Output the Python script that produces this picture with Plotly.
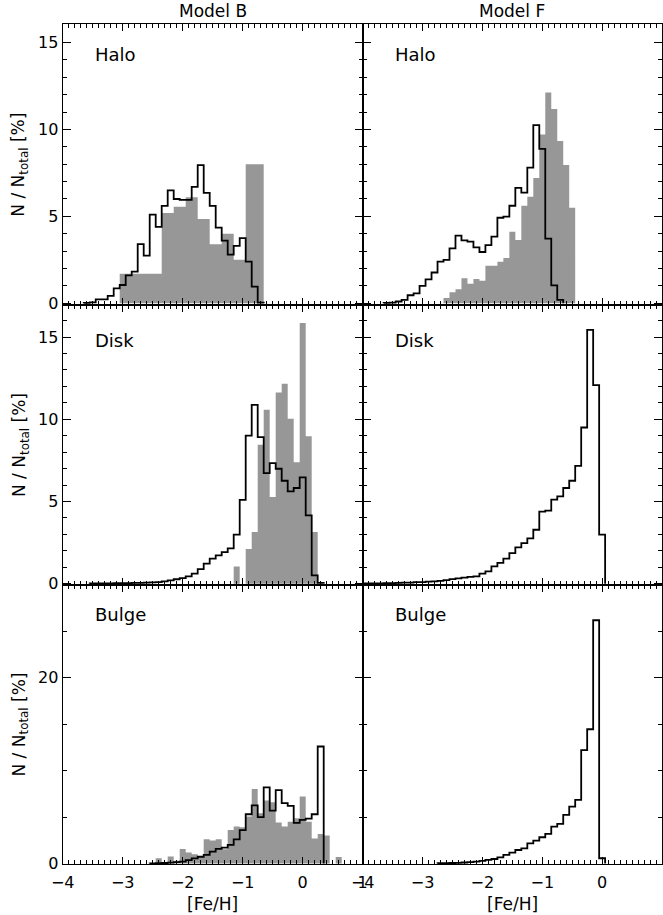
import numpy as np
import plotly.graph_objects as go

# [Fe/H] histograms, 0.1 dex bins; each list starts at the bin centre given
BIN = 0.1

# Model B
halo_b_sim_start = -3.6
halo_b_sim = [0.02, 0.05, 0.22, 0.22, 0.42, 0.86, 1.05, 1.6, 1.82, 3.4,
              2.74, 5.1, 4.4, 5.6, 6.5, 6.0, 5.95, 5.95, 6.7, 7.95,
              6.35, 5.6, 4.35, 3.6, 2.8, 3.3, 3.75, 2.4, 0.96, 0.04]
halo_b_obs_start = -3.0
halo_b_obs = [1.7, 1.7, 1.7, 1.7, 1.7, 1.7, 1.7, 5.2, 5.2, 5.55,
              5.55, 6.1, 6.1, 4.85, 4.85, 3.4, 3.4, 4.0, 4.0, 2.5,
              2.5, 8.0, 8.0, 8.0]

disk_b_sim_start = -3.5
disk_b_sim = [0.01, 0.01, 0.02, 0.02, 0.03, 0.03, 0.04, 0.05, 0.05, 0.06,
              0.08, 0.1, 0.14, 0.2, 0.27, 0.34, 0.45, 0.61, 0.89, 1.22,
              1.52, 1.72, 1.92, 2.15, 2.98, 5.1, 9.0, 10.88, 8.92, 6.73,
              7.33, 6.99, 6.26, 5.61, 5.82, 6.46, 4.15, 0.5, 0.05]
disk_b_obs_start = -1.1
disk_b_obs = [1.05, 0, 2.11, 3.14, 8.45, 10.58, 5.27, 11.63, 12.16, 10.03,
              7.38, 15.85, 8.96, 3.14]

bulge_b_sim_start = -2.5
bulge_b_sim = [0.01, 0.03, 0.05, 0.08, 0.15, 0.2, 0.36, 0.55, 0.72, 0.93,
               1.28, 1.56, 1.7, 2.0, 2.6, 3.6, 5.3, 6.25, 5.0, 8.2,
               5.68, 7.9, 6.5, 6.2, 4.38, 4.7, 4.82, 5.3, 12.6]
bulge_b_obs_start = -2.4
bulge_b_obs = [0.56, 0, 0.74, 0.3, 1.56, 1.17, 0.99, 0.8, 2.6, 2.46,
               2.6, 1.53, 3.61, 3.97, 3.9, 5.07, 8.03, 5.4, 6.77, 6.6,
               4.4, 3.97, 4.5, 4.86, 7.2, 4.5, 2.7, 3.18, 3.0, 0,
               0.7]

# Model F
halo_f_sim_start = -3.6
halo_f_sim = [0.02, 0.04, 0.1, 0.2, 0.46, 0.57, 1.0, 1.38, 1.77, 2.4,
              2.5, 3.16, 3.89, 3.62, 3.55, 3.21, 2.95, 3.35, 3.83, 4.92,
              4.98, 5.61, 6.64, 6.37, 7.8, 10.25, 8.88, 3.72, 1.03, 0.2]
halo_f_obs_start = -2.6
halo_f_obs = [0.3, 0.63, 0.8, 1.44, 1.12, 1.4, 1.29, 2.16, 2.16, 2.39,
              2.6, 4.12, 3.64, 5.61, 6.13, 7.2, 9.71, 12.13, 11.17, 9.33,
              7.96, 5.5]

disk_f_sim_start = -4.0
disk_f_sim = [0.01, 0.01, 0.02, 0.02, 0.03, 0.04, 0.05, 0.06, 0.07, 0.09,
              0.1, 0.12, 0.14, 0.17, 0.22, 0.28, 0.32, 0.37, 0.41, 0.45,
              0.61, 0.75, 1.05, 1.26, 1.52, 1.86, 2.21, 2.47, 2.76, 3.28,
              4.38, 4.44, 5.11, 5.31, 5.82, 6.26, 7.17, 9.5, 15.44, 12.08,
              2.98]

bulge_f_sim_start = -2.7
bulge_f_sim = [0.02, 0.03, 0.05, 0.07, 0.1, 0.14, 0.2, 0.27, 0.38, 0.48,
               0.66, 0.92, 1.17, 1.45, 1.63, 2.17, 2.46, 2.82, 3.18, 3.97,
               4.26, 5.23, 6.13, 6.84, 12.2, 14.46, 26.2, 0.56]

col_titles = ["Model B", "Model F"]
row_labels = ["Halo", "Disk", "Bulge"]
x_ticks = [-4, -3, -2, -1, 0, 1]

GRAY = "#979797"
FONT = "DejaVu Sans"
W, H = 663, 915


def step_xy(start, vals):
    centers = start + BIN * np.arange(len(vals))
    edges = np.round(np.append(centers - BIN / 2, centers[-1] + BIN / 2), 3)
    x = np.concatenate([[edges[0]], edges])
    y = np.concatenate([[0], vals, [0]])
    return x, y


panels = [
    (halo_b_sim_start, halo_b_sim, halo_b_obs_start, halo_b_obs),
    (halo_f_sim_start, halo_f_sim, halo_f_obs_start, halo_f_obs),
    (disk_b_sim_start, disk_b_sim, disk_b_obs_start, disk_b_obs),
    (disk_f_sim_start, disk_f_sim, None, None),
    (bulge_b_sim_start, bulge_b_sim, bulge_b_obs_start, bulge_b_obs),
    (bulge_f_sim_start, bulge_f_sim, None, None),
]

# pixel frame of the six panels
x_dom = [[62.7 / W, 362.7 / W], [362.7 / W, 662.0 / W]]
y_dom = [[1 - 305 / H, 1 - 24.3 / H], [1 - 585 / H, 1 - 305 / H], [1 - 864 / H, 1 - 585 / H]]
y_rng = [[-0.1, 16.05], [-0.08, 16.95], [-0.06, 30.0]]
y_dtick = [(5, 1), (5, 1), (20, 5)]
label_y = [14.3, 14.8, 26.8]

fig = go.Figure()

for i, (s0, sim, o0, obs) in enumerate(panels):
    sfx = "" if i == 0 else str(i + 1)
    if obs is not None:
        ox, oy = step_xy(o0, obs)
        fig.add_trace(go.Scatter(
            x=ox, y=oy, mode="lines", line=dict(shape="hv", width=0, color=GRAY),
            fill="tozeroy", fillcolor=GRAY, showlegend=False, hoverinfo="skip",
            xaxis="x" + sfx, yaxis="y" + sfx))
    sx, sy = step_xy(s0, sim)
    fig.add_trace(go.Scatter(
        x=sx, y=sy, mode="lines", line=dict(shape="hv", width=1.8, color="black"),
        showlegend=False, xaxis="x" + sfx, yaxis="y" + sfx))

layout = dict(
    template="none",
    width=W, height=H, autosize=False,
    margin=dict(l=0, r=0, t=0, b=0, pad=0),
    paper_bgcolor="white", plot_bgcolor="white",
    font=dict(family=FONT, size=16, color="black"),
    showlegend=False,
    annotations=[],
)

for i in range(6):
    row, col = divmod(i, 2)
    sfx = "" if i == 0 else str(i + 1)
    bottom = row == 2
    layout["xaxis" + sfx] = dict(
        domain=x_dom[col], range=[-4, 1], anchor="y" + sfx, automargin=False,
        showline=True, linecolor="black", linewidth=1.3, mirror="ticks",
        ticks="inside", ticklen=7, tickwidth=1.2, tickcolor="black",
        tickmode="array", tickvals=x_ticks,
        ticktext=["\u2212" + str(-v) if v < 0 else str(v) for v in x_ticks],
        minor=dict(ticks="inside", dtick=0.1, tick0=0, ticklen=3.5, tickwidth=1, tickcolor="black"),
        showticklabels=bottom, ticklabelstandoff=4,
        tickfont=dict(family=FONT, size=16),
        showgrid=False, zeroline=False)
    major, minor = y_dtick[row]
    layout["yaxis" + sfx] = dict(
        domain=y_dom[row], range=y_rng[row], anchor="x" + sfx, automargin=False,
        showline=True, linecolor="black", linewidth=1.3, mirror="ticks",
        ticks="inside", ticklen=8, tickwidth=1.2, tickcolor="black",
        dtick=major, tick0=0,
        minor=dict(ticks="inside", dtick=minor, tick0=0, ticklen=4, tickwidth=1, tickcolor="black"),
        showticklabels=(col == 0), tickfont=dict(family=FONT, size=16),
        showgrid=False, zeroline=False)
    layout["annotations"].append(dict(
        x=-3.5, y=label_y[row], xref="x" + sfx, yref="y" + sfx,
        text=row_labels[row], showarrow=False, xanchor="left", yanchor="middle",
        font=dict(family=FONT, size=18)))

for col in range(2):
    cx = (x_dom[col][0] + x_dom[col][1]) / 2
    layout["annotations"].append(dict(
        x=cx, y=1 - 11 / H, xref="paper", yref="paper", text=col_titles[col],
        showarrow=False, xanchor="center", yanchor="middle",
        font=dict(family=FONT, size=17)))
    layout["annotations"].append(dict(
        x=cx, y=1 - 904 / H, xref="paper", yref="paper", text="[Fe/H]",
        showarrow=False, xanchor="center", yanchor="middle",
        font=dict(family=FONT, size=17)))

for row in range(3):
    cy = (y_dom[row][0] + y_dom[row][1]) / 2
    layout["annotations"].append(dict(
        x=20 / W, y=cy, xref="paper", yref="paper",
        text="N / N<sub>total</sub> [%]", textangle=-90,
        showarrow=False, xanchor="center", yanchor="middle",
        font=dict(family=FONT, size=17)))

fig.update_layout(layout)
# the page's default body margin would push the figure 8px right and down
fig.write_html("out.html", config={"displayModeBar": False},
               post_script="document.body.style.margin = '0';")
